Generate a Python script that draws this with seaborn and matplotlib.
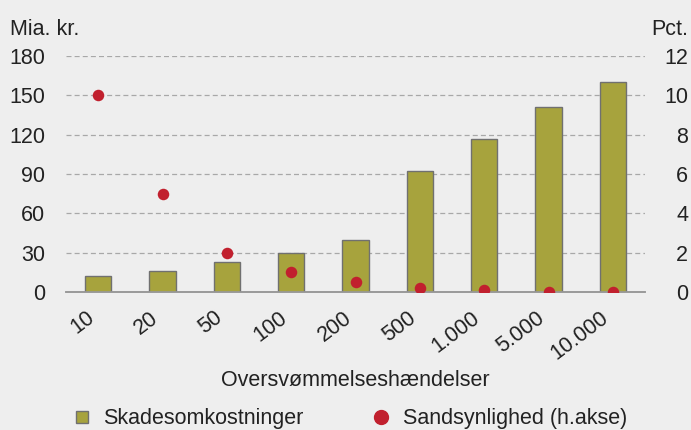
import matplotlib
matplotlib.use('Agg')
import matplotlib.pyplot as plt
import matplotlib.transforms as mtransforms
import numpy as np
import pandas as pd
import seaborn as sns
from matplotlib.lines import Line2D

# Data
haendelser = ['10', '20', '50', '100', '200', '500', '1.000', '5.000', '10.000']
skadesomkostninger = [12, 16, 23, 30, 40, 92, 117, 141, 160]  # mia. kr.
sandsynlighed = [10, 5, 2, 1, 0.5, 0.2, 0.1, 0.02, 0.01]  # pct.

df = pd.DataFrame({'haendelse': haendelser,
                   'skade': skadesomkostninger,
                   'sands': sandsynlighed})

sns.set_style('white')
plt.rcParams['font.family'] = ['Liberation Sans', 'DejaVu Sans']

bg = '#eeeeee'
bar_col = '#a7a33d'
dot_col = '#c1202e'
txt_col = '#222222'
fs = 15.5

fig = plt.figure(figsize=(6.91, 4.30), dpi=100, facecolor=bg)
ax = fig.add_axes([66 / 691, 1 - 292 / 430, 579 / 691, 236 / 430])
ax.set_facecolor(bg)

sns.barplot(data=df, x='haendelse', y='skade', color=bar_col, width=0.41,
            edgecolor='#707070', linewidth=1.0, saturation=1, ax=ax, zorder=3)
ax.set_ylim(0, 180)
ax.set_yticks(np.arange(0, 181, 30))
ax.yaxis.grid(True, linestyle=(0, (4, 2.5)), color='#a8a8a8', linewidth=0.9)
ax.set_axisbelow(True)
ax.set_xlim(-0.5, len(haendelser) - 0.5)

ax2 = ax.twinx()
sns.stripplot(data=df, x='haendelse', y='sands', jitter=False, color=dot_col,
              size=8.3, ax=ax2, zorder=4)
ax2.set_ylim(0, 12)
ax2.set_yticks(np.arange(0, 13, 2))
ax2.set_xlim(-0.5, len(haendelser) - 0.5)

for a in (ax, ax2):
    for s in ['top', 'right', 'left']:
        a.spines[s].set_visible(False)
    a.spines['bottom'].set_color('#999999')
    a.spines['bottom'].set_linewidth(1.2)
    a.set_xlabel('')
    a.set_ylabel('')
    a.tick_params(axis='y', length=0, labelsize=fs, colors=txt_col)

# category boundary ticks on x
ax.set_xticks(np.arange(len(haendelser)))
ax.set_xticklabels(haendelser, rotation=37, ha='right', va='top',
                   fontsize=fs, color=txt_col)
shift = mtransforms.ScaledTranslation(0.045, 0, fig.dpi_scale_trans)
for lab in ax.get_xticklabels():
    lab.set_transform(lab.get_transform() + shift)
ax.tick_params(axis='x', length=0, pad=11)
ax.set_xticks(np.arange(-0.5, len(haendelser)), minor=True)
ax.tick_params(axis='x', which='minor', length=5, color='#999999', width=1.2)
ax2.tick_params(axis='x', length=0)
ax2.tick_params(axis='y', pad=31)
for lab in ax2.get_yticklabels():
    lab.set_horizontalalignment('right')

ax.tick_params(axis='y', pad=15)

ax.set_xlabel('Oversvømmelseshændelser', fontsize=fs, color=txt_col, labelpad=4)

fig.text(0.014, 0.918, 'Mia. kr.', fontsize=fs, color=txt_col, ha='left', va='baseline')
fig.text(0.996, 0.918, 'Pct.', fontsize=fs, color=txt_col, ha='right', va='baseline')

handles = [
    Line2D([], [], marker='s', linestyle='none', markersize=9,
           markerfacecolor=bar_col, markeredgecolor='#707070', markeredgewidth=1),
    Line2D([], [], marker='o', linestyle='none', markersize=10,
           markerfacecolor=dot_col, markeredgecolor=dot_col),
]
fig.legend(handles, ['Skadesomkostninger', 'Sandsynlighed (h.akse)'],
           loc='lower center', bbox_to_anchor=(0.505, -0.043), ncol=2,
           frameon=False, fontsize=fs, handlelength=1.0, handletextpad=0.5,
           columnspacing=3.1, labelcolor=txt_col)

fig.savefig('out.png', dpi=100, facecolor=bg)
